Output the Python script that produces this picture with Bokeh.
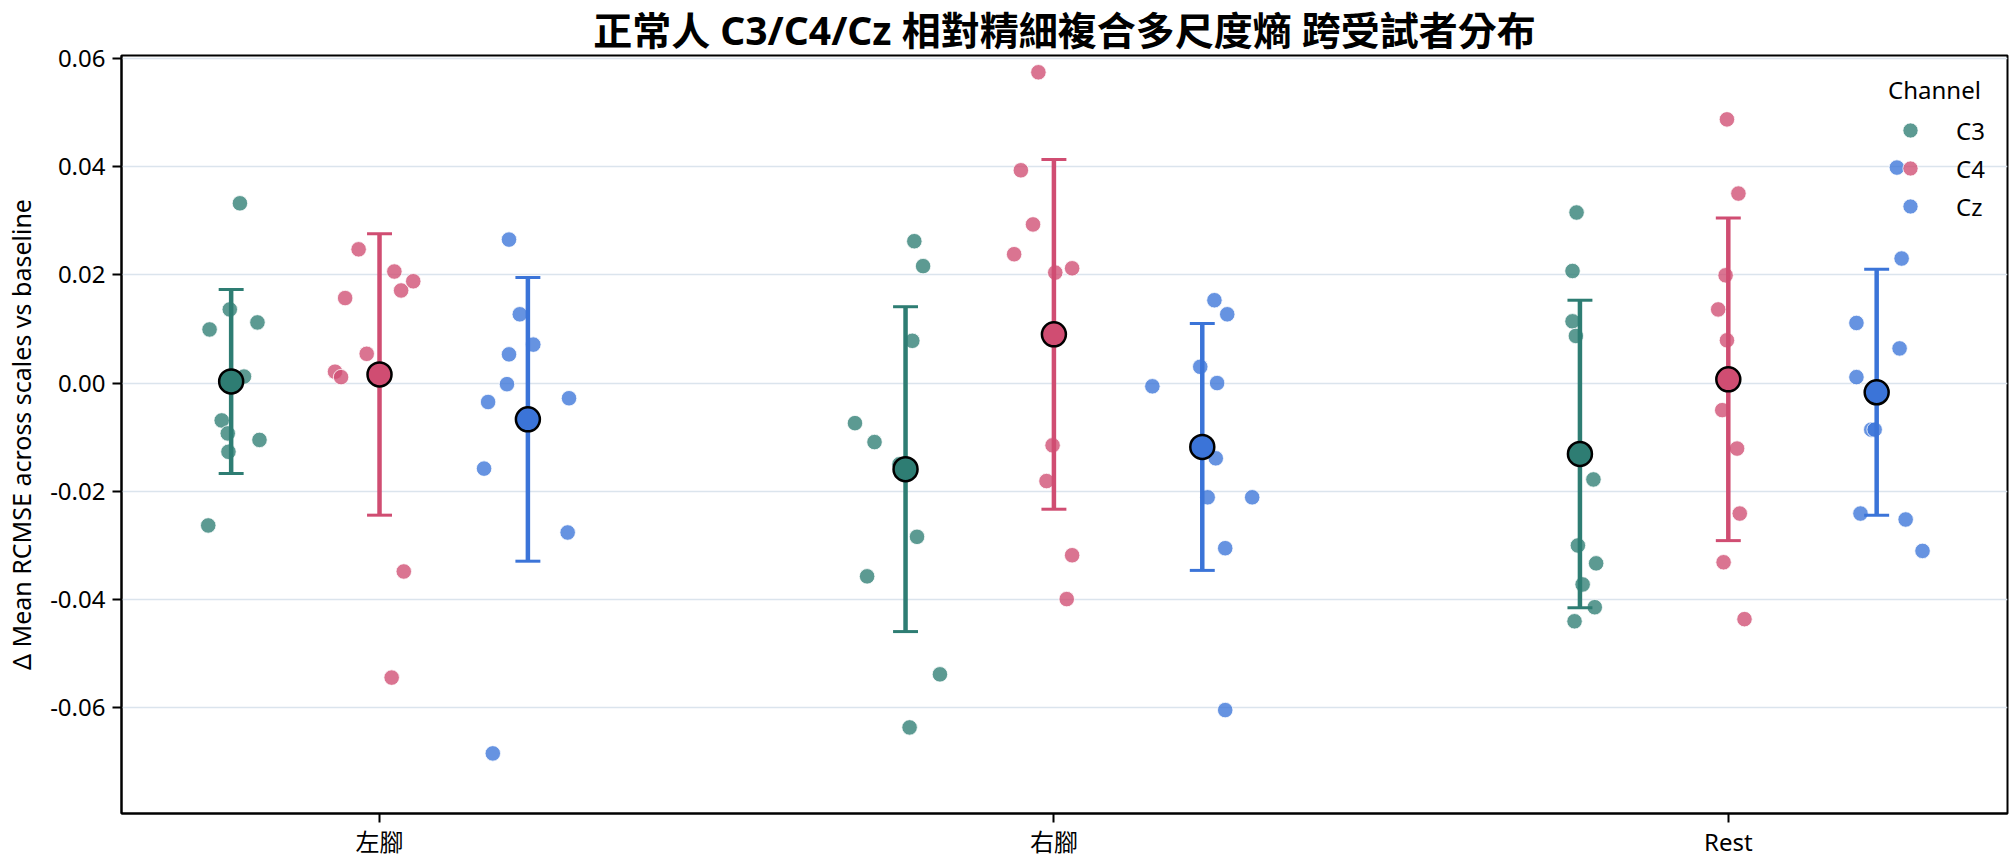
from bokeh.plotting import figure
from bokeh.models import (ColumnDataSource, Range1d, FixedTicker, PrintfTickFormatter,
                          Legend, LegendItem)
from bokeh.embed import file_html
from bokeh.resources import INLINE

# ---------------- data ----------------
conditions = ["左腳", "右腳", "Rest"]
channels = ["C3", "C4", "Cz"]

# per-subject Δ mean RCMSE values
c3_left = [0.0332, 0.0099, 0.0136, 0.0112, 0.0012, -0.0069, -0.0093, -0.0127, -0.0105, -0.0263]
c4_left = [0.0247, 0.0157, 0.0206, 0.0171, 0.0188, 0.0054, 0.0021, 0.0011, -0.0348, -0.0544]
cz_left = [0.0265, 0.0127, 0.0071, 0.0053, -0.0002, -0.0035, -0.0028, -0.0158, -0.0276, -0.0684]

c3_right = [0.0262, 0.0216, 0.0078, -0.0074, -0.0109, -0.0150, -0.0284, -0.0357, -0.0538, -0.0636]
c4_right = [0.0574, 0.0393, 0.0293, 0.0238, 0.0204, 0.0212, -0.0115, -0.0181, -0.0318, -0.0399]
cz_right = [0.0153, 0.0127, 0.0030, 0.0000, -0.0006, -0.0139, -0.0211, -0.0211, -0.0305, -0.0604]

c3_rest = [0.0315, 0.0207, 0.0114, 0.0087, -0.0178, -0.0300, -0.0333, -0.0372, -0.0414, -0.0440]
c4_rest = [0.0487, 0.0350, 0.0199, 0.0136, 0.0079, -0.0050, -0.0121, -0.0241, -0.0331, -0.0436]
cz_rest = [0.0398, 0.0230, 0.0111, 0.0064, 0.0011, -0.0086, -0.0086, -0.0241, -0.0252, -0.0310]

# horizontal strip jitter of each subject (category units), as seen in the picture
jit_c3_left = [0.013, -0.032, -0.002, 0.039, 0.019, -0.014, -0.005, -0.004, 0.042, -0.034]
jit_c4_left = [-0.031, -0.051, 0.022, 0.032, 0.050, -0.019, -0.066, -0.057, 0.036, 0.018]
jit_cz_left = [-0.028, -0.012, 0.008, -0.028, -0.031, -0.059, 0.061, -0.065, 0.059, -0.052]
jit_c3_right = [0.013, 0.026, 0.010, -0.075, -0.046, -0.009, 0.017, -0.057, 0.051, 0.006]
jit_c4_right = [-0.023, -0.049, -0.031, -0.059, 0.002, 0.027, -0.002, -0.011, 0.027, 0.019]
jit_cz_right = [0.018, 0.037, -0.003, 0.022, -0.074, 0.020, 0.008, 0.074, 0.034, 0.034]
jit_c3_rest = [-0.005, -0.011, -0.011, -0.006, 0.020, -0.003, 0.024, 0.004, 0.022, -0.008]
jit_c4_rest = [-0.002, 0.015, -0.004, -0.015, -0.002, -0.009, 0.013, 0.017, -0.007, 0.024]
jit_cz_rest = [0.030, 0.037, -0.030, 0.034, -0.030, -0.008, -0.003, -0.024, 0.043, 0.068]

# group means and SD (error bars), per condition
mean_c3 = [0.0003, -0.0159, -0.0131]
sd_c3 = [0.0170, 0.0300, 0.0284]
mean_c4 = [0.0016, 0.0090, 0.0007]
sd_c4 = [0.0260, 0.0323, 0.0298]
mean_cz = [-0.0067, -0.0118, -0.0017]
sd_cz = [0.0262, 0.0228, 0.0227]

# ---------------- assembly ----------------
values = {
    "C3": [c3_left, c3_right, c3_rest],
    "C4": [c4_left, c4_right, c4_rest],
    "Cz": [cz_left, cz_right, cz_rest],
}
jitters = {
    "C3": [jit_c3_left, jit_c3_right, jit_c3_rest],
    "C4": [jit_c4_left, jit_c4_right, jit_c4_rest],
    "Cz": [jit_cz_left, jit_cz_right, jit_cz_rest],
}
means = {"C3": mean_c3, "C4": mean_c4, "Cz": mean_cz}
sds = {"C3": sd_c3, "C4": sd_c4, "Cz": sd_cz}

colors = {"C3": "#2e7d73", "C4": "#d04d72", "Cz": "#3b74d8"}
dodge = {"C3": -0.22, "C4": 0.0, "Cz": 0.22}
cap_half = 0.0185

LATIN = "Noto Sans, Noto Sans CJK TC"

p = figure(width=2015, height=864,
           x_range=Range1d(-0.3826, 2.414), y_range=Range1d(-0.0795, 0.0605),
           output_backend="svg", toolbar_location=None,
           min_border_left=121, min_border_right=8, min_border_top=55, min_border_bottom=51,
           title="正常人 C3/C4/Cz 相對精細複合多尺度熵 跨受試者分布")

p.title.align = "center"
p.title.text_font = LATIN
p.title.text_font_size = "39px"
p.title.text_font_style = "bold"
p.title.text_color = "black"
p.title.standoff = 0

p.background_fill_color = "white"
p.border_fill_color = "white"
p.outline_line_color = "black"
p.outline_line_width = 2
p.outline_line_alpha = 1

# axes
p.xaxis.ticker = FixedTicker(ticks=list(range(len(conditions))))
p.xaxis.major_label_overrides = {i: c for i, c in enumerate(conditions)}
p.yaxis.ticker = FixedTicker(ticks=[-0.06, -0.04, -0.02, 0.0, 0.02, 0.04, 0.06])
p.yaxis.formatter = PrintfTickFormatter(format="%.2f")
p.yaxis.axis_label = "Δ Mean RCMSE across scales vs baseline"
for ax in (p.xaxis, p.yaxis):
    ax.axis_line_color = "black"
    ax.axis_line_width = 2
    ax.major_tick_line_color = "black"
    ax.major_tick_line_width = 2
    ax.major_tick_out = 9
    ax.major_tick_in = 0
    ax.minor_tick_line_color = None
    ax.major_label_text_font = LATIN
    ax.major_label_text_font_size = "24px"
    ax.major_label_text_color = "black"
p.yaxis.major_label_standoff = 7
p.xaxis.major_label_standoff = 2
p.yaxis.axis_label_text_font = LATIN
p.yaxis.axis_label_text_font_size = "25px"
p.yaxis.axis_label_text_font_style = "normal"
p.yaxis.axis_label_text_color = "black"
p.yaxis.axis_label_standoff = 9

p.xgrid.visible = False
p.ygrid.ticker = FixedTicker(ticks=[-0.06, -0.04, -0.02, 0.0, 0.02, 0.04, 0.06])
p.ygrid.grid_line_color = "#dbe4ed"
p.ygrid.grid_line_width = 1.5

legend_items = []
for ch in channels:
    xs, ys = [], []
    for ci, cond in enumerate(conditions):
        for v, j in zip(values[ch][ci], jitters[ch][ci]):
            xs.append(ci + dodge[ch] + j)
            ys.append(v)
    src = ColumnDataSource(dict(x=xs, y=ys))
    r = p.scatter("x", "y", source=src, size=15.5, fill_color=colors[ch], fill_alpha=0.78,
                  line_color="white", line_alpha=0.8, line_width=1)
    legend_items.append(LegendItem(label=ch, renderers=[r]))

for ch in channels:
    cx = [ci + dodge[ch] for ci in range(len(conditions))]
    lo = [m - s for m, s in zip(means[ch], sds[ch])]
    hi = [m + s for m, s in zip(means[ch], sds[ch])]
    esrc = ColumnDataSource(dict(x=cx, lo=lo, hi=hi, m=means[ch],
                                 xl=[x - cap_half for x in cx], xr=[x + cap_half for x in cx]))
    p.segment(x0="x", y0="lo", x1="x", y1="hi", source=esrc, line_color=colors[ch], line_width=4.5)
    p.segment(x0="xl", y0="hi", x1="xr", y1="hi", source=esrc, line_color=colors[ch], line_width=3)
    p.segment(x0="xl", y0="lo", x1="xr", y1="lo", source=esrc, line_color=colors[ch], line_width=3)
    p.scatter(x="x", y="m", source=esrc, size=24, fill_color=colors[ch], fill_alpha=1,
              line_color="black", line_width=2.5)

legend = Legend(items=legend_items, title="Channel", location=(1762, 583),
                border_line_alpha=0, background_fill_alpha=0,
                label_text_font=LATIN, label_text_font_size="24px", label_text_color="black",
                title_text_font=LATIN, title_text_font_size="24px", title_text_font_style="normal",
                title_text_color="black", title_standoff=5,
                glyph_width=44, glyph_height=38, label_standoff=24, spacing=0,
                padding=5, margin=0, label_height=38)
p.add_layout(legend)

open("out.html", "w").write(file_html(p, INLINE))
